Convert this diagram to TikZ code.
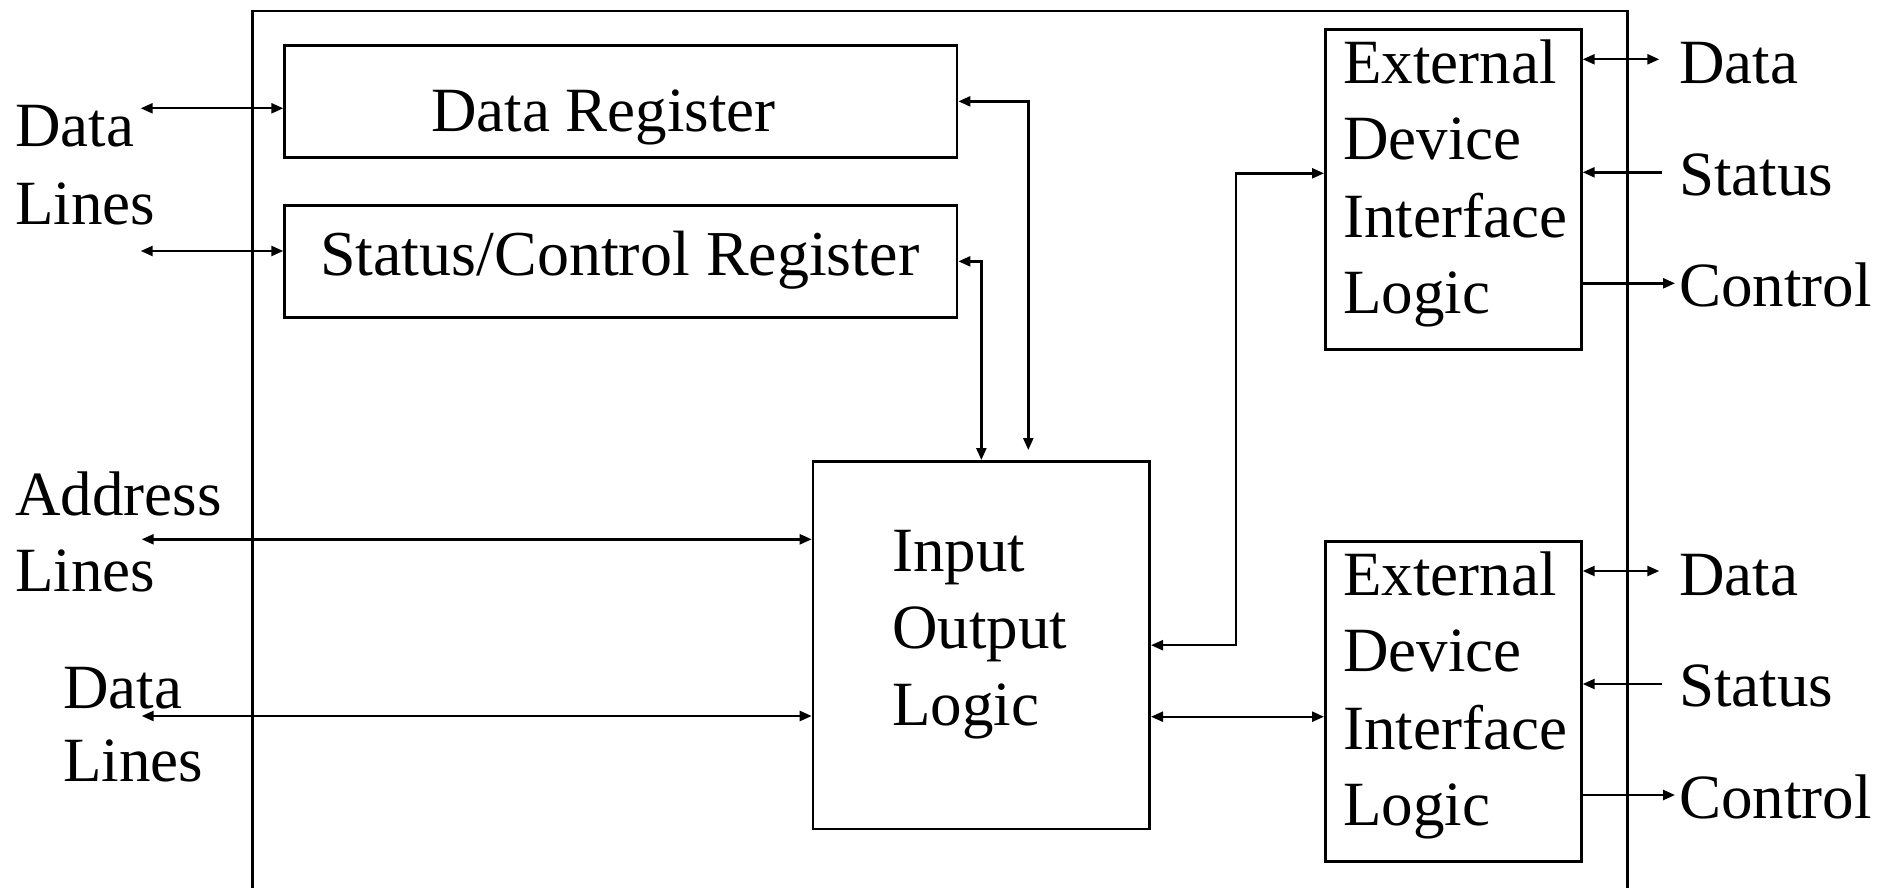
\documentclass[tikz,border=0pt]{standalone}
\usepackage{fontspec}
\setmainfont{Liberation Serif}
\usetikzlibrary{arrows.meta}
\tikzset{
  box/.style={draw, line width=2.7pt, inner sep=0pt, anchor=north west},
  lbl/.style={inner sep=0pt, anchor=base west, font=\fontsize{63}{76}\selectfont},
  lblbig/.style={inner sep=0pt, anchor=base west, font=\fontsize{64}{77}\selectfont},
  conn/.style={line width=2.4pt},
  tip/.tip={Triangle[length=12pt,width=10pt]},
  bi/.style={conn, tip-tip},
  uni/.style={conn, -tip},
  frame/.style={line width=2.5pt},
}
\begin{document}
\begin{tikzpicture}[x=1pt, y=-1pt]
\useasboundingbox (0,0) rectangle (1898,888);

% outer frame (open at the bottom)
\draw[frame] (252.3,888) -- (252.3,11) -- (1627.7,11) -- (1627.7,888);

% boxes
\node[box, minimum width=672.4pt, minimum height=112pt] (DR) at (283.3,44) {};
\node[box, minimum width=672.4pt, minimum height=112pt] (SCR) at (283.3,204) {};
\node[box, minimum width=336.6pt, minimum height=367.7pt] (IO) at (811.7,460) {};
\node[box, minimum width=256pt, minimum height=320pt] (E1) at (1324,28.3) {};
\node[box, minimum width=256pt, minimum height=320pt] (E2) at (1324,540) {};

% box texts
\node[lbl] (tDR) at (431,131.7) {Data Register};
\node[lblbig] (tSCR) at (320,275) {Status/Control Register};

\node[lbl] (tIO1) at (892,571.7) {Input};
\node[lbl] (tIO2) at (892,648.3) {Output};
\node[lbl] (tIO3) at (892,725) {Logic};

\node[lbl] (tE1a) at (1343,83.3) {External};
\node[lbl] (tE1b) at (1343,160) {Device};
\node[lbl] (tE1c) at (1343,237.3) {Interface};
\node[lbl] (tE1d) at (1343,313.3) {Logic};

\node[lbl] (tE2a) at (1343,595) {External};
\node[lbl] (tE2b) at (1343,671.7) {Device};
\node[lbl] (tE2c) at (1343,749) {Interface};
\node[lbl] (tE2d) at (1343,825) {Logic};

% left labels
\node[lbl] (ldl1) at (15,146.7) {Data};
\node[lbl] (ldl2) at (15,224) {Lines};
\node[lbl] (lal1) at (15,515) {Address};
\node[lbl] (lal2) at (15,591.7) {Lines};
\node[lbl] (ldm1) at (63,708.3) {Data};
\node[lbl] (ldm2) at (63,781.7) {Lines};

% right labels
\node[lbl] (r1d) at (1679,83.3) {Data};
\node[lbl] (r1s) at (1679,195) {Status};
\node[lbl] (r1c) at (1679,306.7) {Control};
\node[lbl] (r2d) at (1679,595) {Data};
\node[lbl] (r2s) at (1679,706.7) {Status};
\node[lbl] (r2c) at (1679,818.4) {Control};

% free ends
\coordinate (cL1) at (140.7,108.3);
\coordinate (cL2) at (140.7,251);
\coordinate (cL3) at (141.7,539.3);
\coordinate (cL4) at (141.7,716);
\coordinate (cDRend) at (1028.3,450);
\coordinate (cIOx) at (1236,0);
\coordinate (cE2y) at (0,716.7);

\coordinate (c1d) at (1659.3,59.3);
\coordinate (c1s) at (1661.7,172.3);
\coordinate (c1c) at (1675,283.3);
\coordinate (c2d) at (1659.3,571);
\coordinate (c2s) at (1661.7,684);
\coordinate (c2c) at (1675,795);

% left connectors
\draw[bi] (cL1) -- (cL1 -| DR.west);
\draw[bi] (cL2) -- (cL2 -| SCR.west);
\draw[bi] (cL3) -- (cL3 -| IO.west);
\draw[bi] (cL4) -- (cL4 -| IO.west);

% registers to IO logic
\draw[bi] (DR.east) -| (cDRend);
\draw[bi] (SCR.east) -| (IO.north);

% IO logic to external devices
\draw[bi] (IO.east) -| (cIOx |- 0,173.3) -- (E1.west |- 0,173.3);
\draw[bi] (IO.east |- cE2y) -- (E2.west |- cE2y);

% external device lines
\draw[bi] (E1.east |- c1d) -- (c1d);
\draw[uni] (c1s) -- (E1.east |- c1s);
\draw[uni] (E1.east |- c1c) -- (c1c);
\draw[bi] (E2.east |- c2d) -- (c2d);
\draw[uni] (c2s) -- (E2.east |- c2s);
\draw[uni] (E2.east |- c2c) -- (c2c);
\end{tikzpicture}
\end{document}
